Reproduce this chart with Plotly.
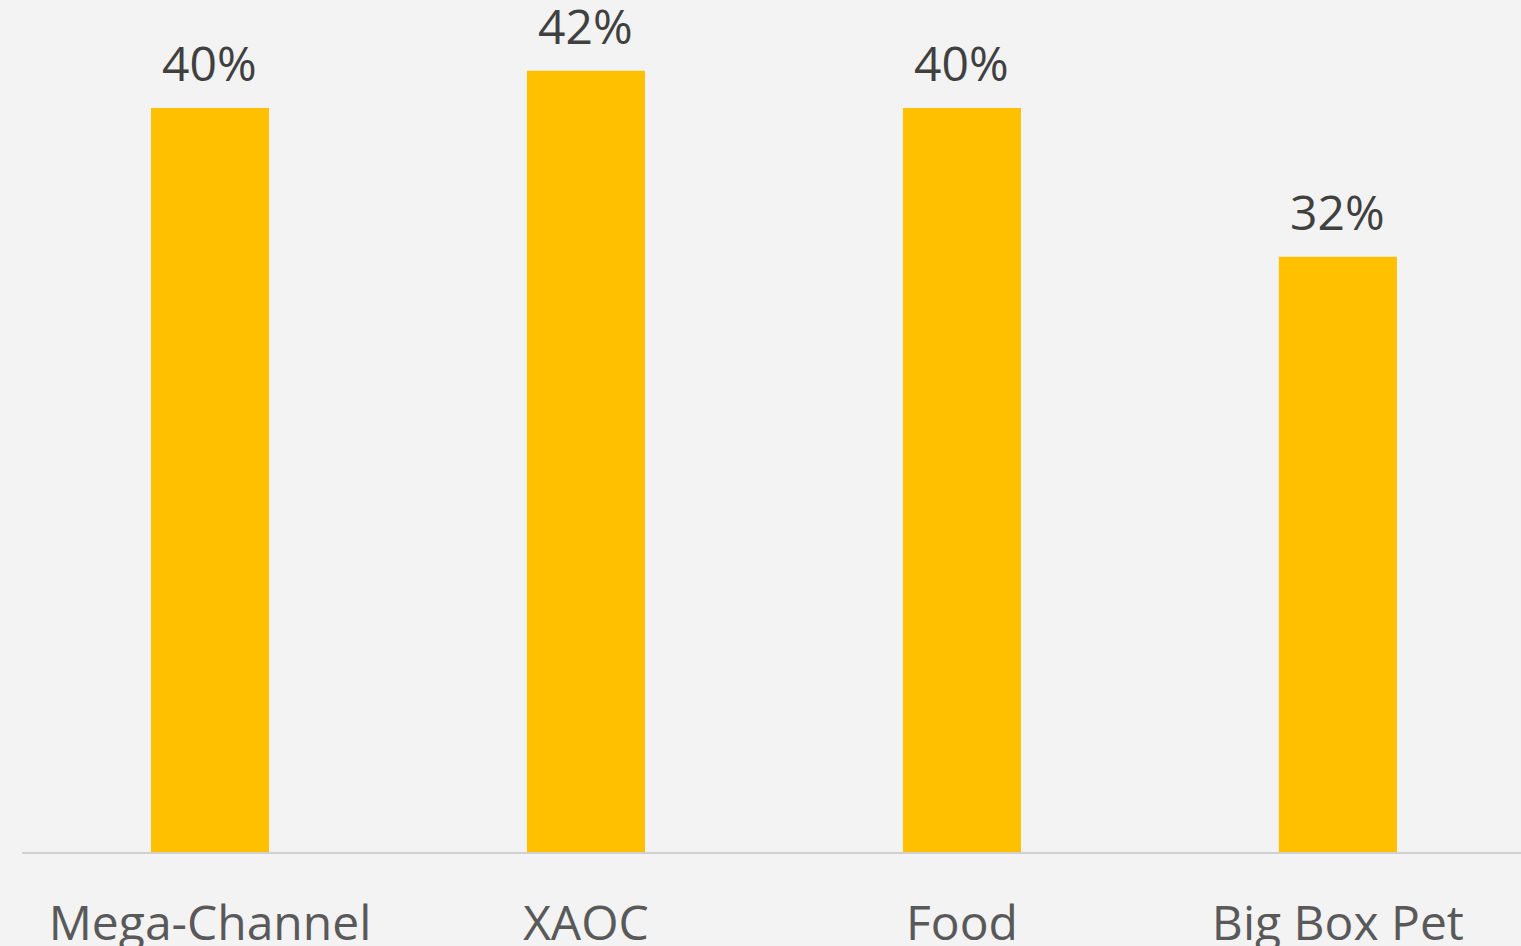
import plotly.graph_objects as go

categories = ["Mega-Channel", "XAOC", "Food", "Big Box Pet"]
values = [0.40, 0.42, 0.40, 0.32]
labels = ["40%", "42%", "40%", "32%"]

xpos = list(range(len(categories)))

fig = go.Figure()
fig.add_trace(go.Bar(
    x=xpos,
    y=values,
    width=0.314,
    marker=dict(color="#FFC000", line=dict(width=0)),
    hoverinfo="skip",
))

for xi, v, lab in zip(xpos, values, labels):
    fig.add_annotation(
        x=xi, y=v, text=lab, showarrow=False,
        xanchor="center", yanchor="bottom", yshift=11,
        font=dict(family="Open Sans", size=48, color="#404040"),
    )

fig.update_layout(
    width=1521, height=946,
    margin=dict(l=22, r=0, t=0, b=94, autoexpand=False),
    paper_bgcolor="#f3f3f3",
    plot_bgcolor="rgba(0,0,0,0)",
    showlegend=False,
    font=dict(family="Open Sans", color="#595959"),
)
fig.update_xaxes(
    tickmode="array",
    tickvals=xpos,
    ticktext=categories,
    range=[-0.5, 3.487],
    automargin=False,
    showline=True, linecolor="#d0d0d0", linewidth=2,
    showgrid=False, zeroline=False,
    ticks="outside", ticklen=28, tickcolor="rgba(0,0,0,0)",
    tickfont=dict(family="Open Sans", size=48, color="#595959"),
)
fig.update_yaxes(
    range=[0, 0.458],
    visible=False,
    automargin=False,
    showgrid=False, zeroline=False,
)

fig.write_html(
    "out.html",
    config={"displayModeBar": False},
    post_script="document.body.style.margin='0';document.body.style.overflow='hidden';",
)
